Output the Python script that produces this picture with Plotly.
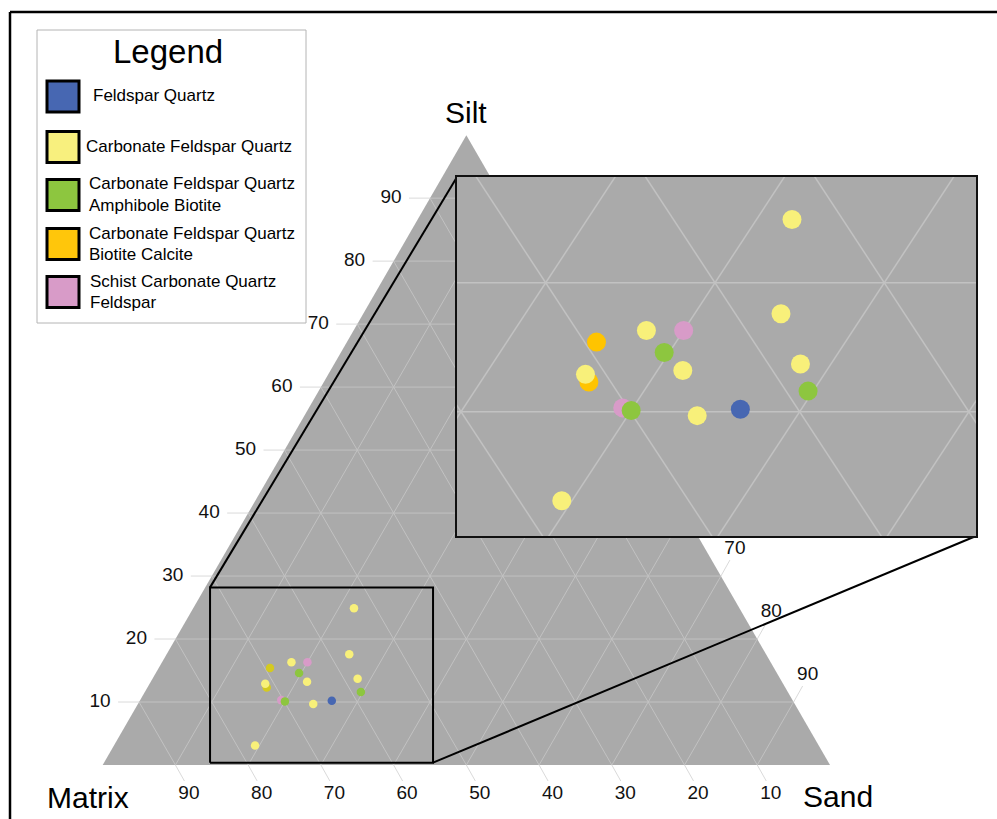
import numpy as np
import plotly.graph_objects as go

# ---------------- sample compositions (%) ----------------
group_names = [
    "Feldspar Quartz",
    "Carbonate Feldspar Quartz",
    "Carbonate Feldspar Quartz|Amphibole Biotite",
    "Carbonate Feldspar Quartz|Biotite Calcite",
    "Schist Carbonate Quartz|Feldspar",
]

fq_silt = [10.2]
fq_sand = [26.4]
fq_matrix = [63.4]

cfq_silt = [24.9, 17.6, 16.3, 13.2, 13.7, 12.9, 9.7, 3.1]
cfq_sand = [22.1, 25.1, 17.8, 21.5, 28.2, 15.9, 24.1, 19.4]
cfq_matrix = [53.0, 57.3, 65.9, 65.3, 58.1, 71.2, 66.2, 77.5]

cfqab_silt = [14.6, 11.6, 10.1]
cfqab_sand = [19.7, 29.7, 20.0]
cfqab_matrix = [65.7, 58.7, 69.9]

cfqbc_silt = [15.4, 12.3]
cfqbc_sand = [15.3, 16.4]
cfqbc_matrix = [69.3, 71.3]

scqf_silt = [16.3, 10.3]
scqf_sand = [20.0, 19.4]
scqf_matrix = [63.7, 70.3]

grid_values = [10, 20, 30, 40, 50, 60, 70, 80, 90]
silt_tick_labels = [10, 20, 30, 40, 50, 60, 70, 80, 90]
matrix_tick_labels = [10, 20, 30, 40, 50, 60, 70, 80, 90]
sand_tick_labels = [20, 30, 40, 50, 60, 70, 80, 90]

# ---------------- styling ----------------
W, H = 997, 819
FONT = "Arial, Liberation Sans, sans-serif"
TRI_FILL = "#aaaaaa"
GRID = "#c2c2c2"
TICK = "#dadada"

swatch_colors = ["#4767b2", "#f8f07e", "#8dc63f", "#ffc60b", "#d89bc8"]
inset_colors = ["#4767b2", "#f8f07a", "#8dc63f", "#ffc400", "#d89bc8"]
main_colors = ["#4767b2", "#f8f07a", "#8dc63f", "#d4ca20", "#d89bc8"]

# main triangle placement: left vertex pixel, base pixel, px per % unit
LEFT_PX, BASE_PX, SCALE = 102.7, 765.0, 7.273
x_range = [(0 - LEFT_PX) / SCALE, (W - LEFT_PX) / SCALE]
y_range = [(BASE_PX - H) / SCALE, BASE_PX / SCALE]

# zoom window (cartesian ternary units) and its enlarged placement
zoom_x = [14.76, 45.42]
zoom_y = [0.32, 24.42]
inset_dom_x = [457 / W, 976 / W]
inset_dom_y = [1 - 536 / H, 1 - 177 / H]

SQ3 = np.sqrt(3)


def to_xy(silt, matrix, sand):
    silt, matrix, sand = map(np.asarray, (silt, matrix, sand))
    tot = silt + matrix + sand
    a = 100 * silt / tot
    c = 100 * sand / tot
    return c + a / 2, a * SQ3 / 2


def paper_to_main(px, py):
    return (x_range[0] + px * (x_range[1] - x_range[0]),
            y_range[0] + py * (y_range[1] - y_range[0]))


# grid lines at every 10 % for the three components
gx, gy = [], []
for k in grid_values:
    segs = [((k, 100 - k, 0), (k, 0, 100 - k)),          # silt = k
            ((0, k, 100 - k), (100 - k, k, 0)),          # matrix = k
            ((0, 100 - k, k), (100 - k, 0, k))]          # sand = k
    for p, q in segs:
        x1, y1 = to_xy(*p)
        x2, y2 = to_xy(*q)
        gx += [float(x1), float(x2), None]
        gy += [float(y1), float(y2), None]

fig = go.Figure()

# ---- main triangle ----
tx, ty = to_xy([100, 0, 0, 100], [0, 100, 0, 0], [0, 0, 100, 0])
fig.add_trace(go.Scatter(x=tx, y=ty, mode="lines", fill="toself",
                         fillcolor=TRI_FILL, line=dict(width=0),
                         hoverinfo="skip", xaxis="x", yaxis="y"))
fig.add_trace(go.Scatter(x=gx, y=gy, mode="lines",
                         line=dict(color=GRID, width=1),
                         hoverinfo="skip", xaxis="x", yaxis="y"))

# ticks and tick labels along the three edges
tick_x, tick_y = [], []
lab_x, lab_y, lab_t = [], [], []
d = 1 / SCALE
for k in grid_values:
    # silt (left edge)
    ex, ey = to_xy(k, 100 - k, 0)
    tick_x += [float(ex) - 21 * d, float(ex), None]
    tick_y += [float(ey), float(ey), None]
    if k in silt_tick_labels:
        lab_x.append(float(ex) - 39 * d); lab_y.append(float(ey)); lab_t.append(str(k))
    # matrix (bottom edge)
    ex, ey = to_xy(0, k, 100 - k)
    tick_x += [float(ex), float(ex) + 9 * d, None]
    tick_y += [float(ey), float(ey) - 16 * d, None]
    if k in matrix_tick_labels:
        lab_x.append(float(ex) + 13.5 * d); lab_y.append(float(ey) - 29 * d); lab_t.append(str(k))
    # sand (right edge)
    ex, ey = to_xy(100 - k, 0, k)
    tick_x += [float(ex), float(ex) + 9 * d, None]
    tick_y += [float(ey), float(ey) + 16 * d, None]
    if k in sand_tick_labels:
        lab_x.append(float(ex) + 14 * d); lab_y.append(float(ey) + 27 * d); lab_t.append(str(k))

fig.add_trace(go.Scatter(x=tick_x, y=tick_y, mode="lines",
                         line=dict(color=TICK, width=1), hoverinfo="skip",
                         xaxis="x", yaxis="y"))
fig.add_trace(go.Scatter(x=lab_x, y=lab_y, text=lab_t, mode="text",
                         textposition="middle center",
                         textfont=dict(family=FONT, size=19, color="#111111"),
                         hoverinfo="skip", xaxis="x", yaxis="y"))

# sample groups
all_groups = [
    (fq_silt, fq_matrix, fq_sand),
    (cfq_silt, cfq_matrix, cfq_sand),
    (cfqab_silt, cfqab_matrix, cfqab_sand),
    (cfqbc_silt, cfqbc_matrix, cfqbc_sand),
    (scqf_silt, scqf_matrix, scqf_sand),
]
draw_order = [3, 4, 1, 2, 0]

for i in draw_order:
    sx, sy = to_xy(*all_groups[i])
    fig.add_trace(go.Scatter(x=sx, y=sy, mode="markers",
                             name=group_names[i].replace("|", " "),
                             marker=dict(size=8.5, color=main_colors[i], line=dict(width=0)),
                             xaxis="x", yaxis="y"))

# outline of the zoom window on the main triangle
fig.add_trace(go.Scatter(
    x=[zoom_x[0], zoom_x[1], zoom_x[1], zoom_x[0], zoom_x[0]],
    y=[zoom_y[0], zoom_y[0], zoom_y[1], zoom_y[1], zoom_y[0]],
    mode="lines", line=dict(color="black", width=2), hoverinfo="skip",
    xaxis="x", yaxis="y"))

# connectors from the zoom window to the enlarged view
ix0, iy1 = paper_to_main(inset_dom_x[0], inset_dom_y[1])
ix1, iy0 = paper_to_main(inset_dom_x[1], inset_dom_y[0])
fig.add_trace(go.Scatter(
    x=[zoom_x[0], ix0, None, zoom_x[1], ix1],
    y=[zoom_y[1], iy1, None, zoom_y[0], iy0],
    mode="lines", line=dict(color="black", width=2), hoverinfo="skip",
    xaxis="x", yaxis="y"))

# ---- enlarged view ----
fig.add_trace(go.Scatter(
    x=[zoom_x[0], zoom_x[1], zoom_x[1], zoom_x[0], zoom_x[0]],
    y=[zoom_y[0], zoom_y[0], zoom_y[1], zoom_y[1], zoom_y[0]],
    mode="lines", fill="toself", fillcolor=TRI_FILL, line=dict(width=0),
    hoverinfo="skip", xaxis="x2", yaxis="y2"))
fig.add_trace(go.Scatter(x=gx, y=gy, mode="lines",
                         line=dict(color=GRID, width=1.5),
                         hoverinfo="skip", xaxis="x2", yaxis="y2"))
for i in draw_order:
    sx, sy = to_xy(*all_groups[i])
    fig.add_trace(go.Scatter(x=sx, y=sy, mode="markers",
                             name=group_names[i].replace("|", " "),
                             marker=dict(size=19, color=inset_colors[i], line=dict(width=0)),
                             xaxis="x2", yaxis="y2"))

# ---- legend (drawn by hand: large square swatches) ----
shapes = []
annotations = []


def px2p(px, py):
    return px / W, 1 - py / H


def rect_px(x0, y0, x1, y1, **kw):
    a = px2p(x0, y0)
    b = px2p(x1, y1)
    return dict(type="rect", xref="paper", yref="paper",
                x0=a[0], x1=b[0], y0=b[1], y1=a[1], **kw)


shapes.append(rect_px(37, 30, 306, 323, line=dict(color="#b4b4b4", width=1),
                      fillcolor="white", layer="above"))
ax, ay = px2p(168, 51)
annotations.append(dict(x=ax, y=ay, xref="paper", yref="paper", text="Legend",
                        showarrow=False, xanchor="center", yanchor="middle",
                        font=dict(family=FONT, size=33, color="black")))

swatch_cy = [96.5, 147, 195, 244, 292]
text_x = [91, 84, 86.5, 86.5, 88]
for i, name in enumerate(group_names):
    cy = swatch_cy[i]
    shapes.append(rect_px(47, cy - 15.5, 79, cy + 15.5,
                          line=dict(color="black", width=3),
                          fillcolor=swatch_colors[i], layer="above"))
    lines = name.split("|")
    if len(lines) == 1:
        offs = [-1]
    else:
        offs = [-11, 10]
    for line_txt, o in zip(lines, offs):
        lx, ly = px2p(text_x[i], cy + o)
        annotations.append(dict(x=lx, y=ly, xref="paper", yref="paper",
                                text=line_txt, showarrow=False,
                                xanchor="left", yanchor="middle",
                                font=dict(family=FONT, size=17, color="black")))

# component names at the corners
for label, (px, py) in [("Silt", (466, 113)), ("Matrix", (88, 797)),
                        ("Sand", (838, 796))]:
    lx, ly = px2p(px, py)
    annotations.append(dict(x=lx, y=ly, xref="paper", yref="paper", text=label,
                            showarrow=False, xanchor="center", yanchor="middle",
                            font=dict(family=FONT, size=30, color="black")))

# outer frame (top and left)
fx0, fy0 = px2p(10, 12)
shapes.append(dict(type="line", xref="paper", yref="paper", x0=fx0, y0=fy0,
                   x1=1.0, y1=fy0, line=dict(color="black", width=2.5), layer="above"))
shapes.append(dict(type="line", xref="paper", yref="paper", x0=fx0, y0=fy0,
                   x1=fx0, y1=0.0, line=dict(color="black", width=2.5), layer="above"))

hidden = dict(visible=False, showgrid=False, zeroline=False, fixedrange=True)
fig.update_layout(
    width=W, height=H,
    margin=dict(l=0, r=0, t=0, b=0),
    paper_bgcolor="white", plot_bgcolor="white",
    showlegend=False,
    xaxis=dict(range=x_range, domain=[0, 1], **hidden),
    yaxis=dict(range=y_range, domain=[0, 1], **hidden),
    xaxis2=dict(range=zoom_x, domain=inset_dom_x, anchor="y2",
                showgrid=False, zeroline=False, showticklabels=False,
                ticks="", showline=True, mirror=True, linecolor="#111111",
                linewidth=2, fixedrange=True),
    yaxis2=dict(range=zoom_y, domain=inset_dom_y, anchor="x2",
                showgrid=False, zeroline=False, showticklabels=False,
                ticks="", showline=True, mirror=True, linecolor="#111111",
                linewidth=2, fixedrange=True),
    shapes=shapes,
    annotations=annotations,
    font=dict(family=FONT),
)

fig.write_html("out.html")
